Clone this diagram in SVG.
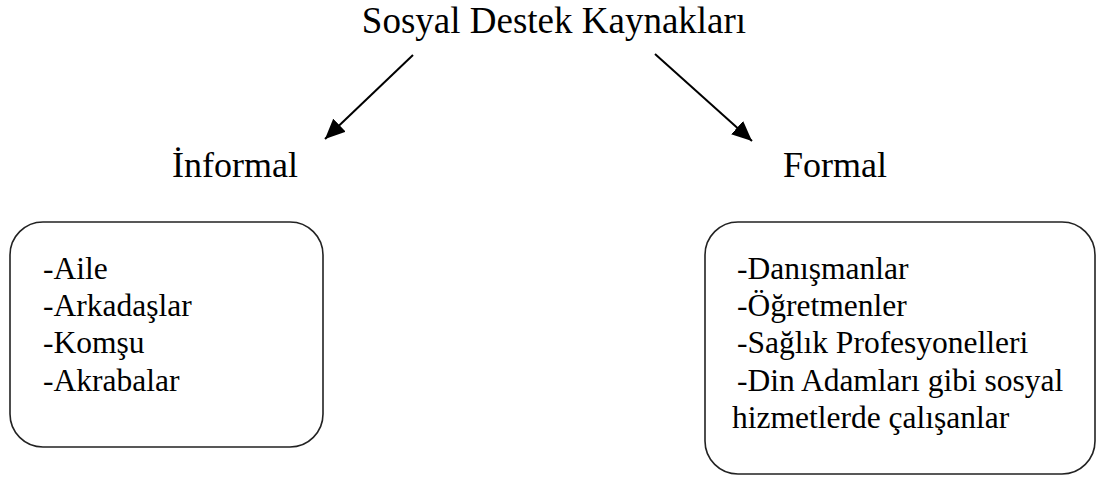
<svg xmlns="http://www.w3.org/2000/svg" width="1099" height="481" viewBox="0 0 1099 481">
<defs>
<style>
.t{font-family:"Liberation Serif","Times New Roman",serif;fill:#000}
.title{font-size:37px}
.head{font-size:36px}
.item{font-size:31.5px}
.box{fill:#fff;stroke:#222;stroke-width:1.6}
.conn{stroke:#000;stroke-width:2;fill:none}
</style>
<marker id="ah" markerUnits="userSpaceOnUse" markerWidth="22" markerHeight="18" refX="20" refY="9" orient="auto">
<path d="M0,0 L20,9 L0,18 Z" fill="#000"/>
</marker>
</defs>
<rect width="1099" height="481" fill="#fff"/>
<g id="root">
<text class="t title" x="554" y="33" text-anchor="middle">Sosyal Destek Kaynakları</text>
</g>
<g id="informal">
<text class="t head" x="172" y="177">İnformal</text>
</g>
<g id="formal">
<text class="t head" x="783" y="177">Formal</text>
</g>
<g id="informal-box">
<rect class="box" x="10" y="222" width="313" height="225" rx="33" ry="33"/>
<text class="t item" x="43" y="279">-Aile</text>
<text class="t item" x="43" y="316">-Arkadaşlar</text>
<text class="t item" x="43" y="353">-Komşu</text>
<text class="t item" x="43" y="391">-Akrabalar</text>
</g>
<g id="formal-box">
<rect class="box" x="705" y="222" width="390" height="252" rx="33" ry="33"/>
<text class="t item" x="737" y="279">-Danışmanlar</text>
<text class="t item" x="737" y="316">-Öğretmenler</text>
<text class="t item" x="737" y="353">-Sağlık Profesyonelleri</text>
<text class="t item" x="737" y="391">-Din Adamları gibi sosyal</text>
<text class="t item" x="732" y="428">hizmetlerde çalışanlar</text>
</g>
<g id="connectors">
<line class="conn" x1="413" y1="55" x2="325" y2="139" marker-end="url(#ah)"/>
<line class="conn" x1="655" y1="54" x2="752" y2="141" marker-end="url(#ah)"/>
</g>
</svg>
